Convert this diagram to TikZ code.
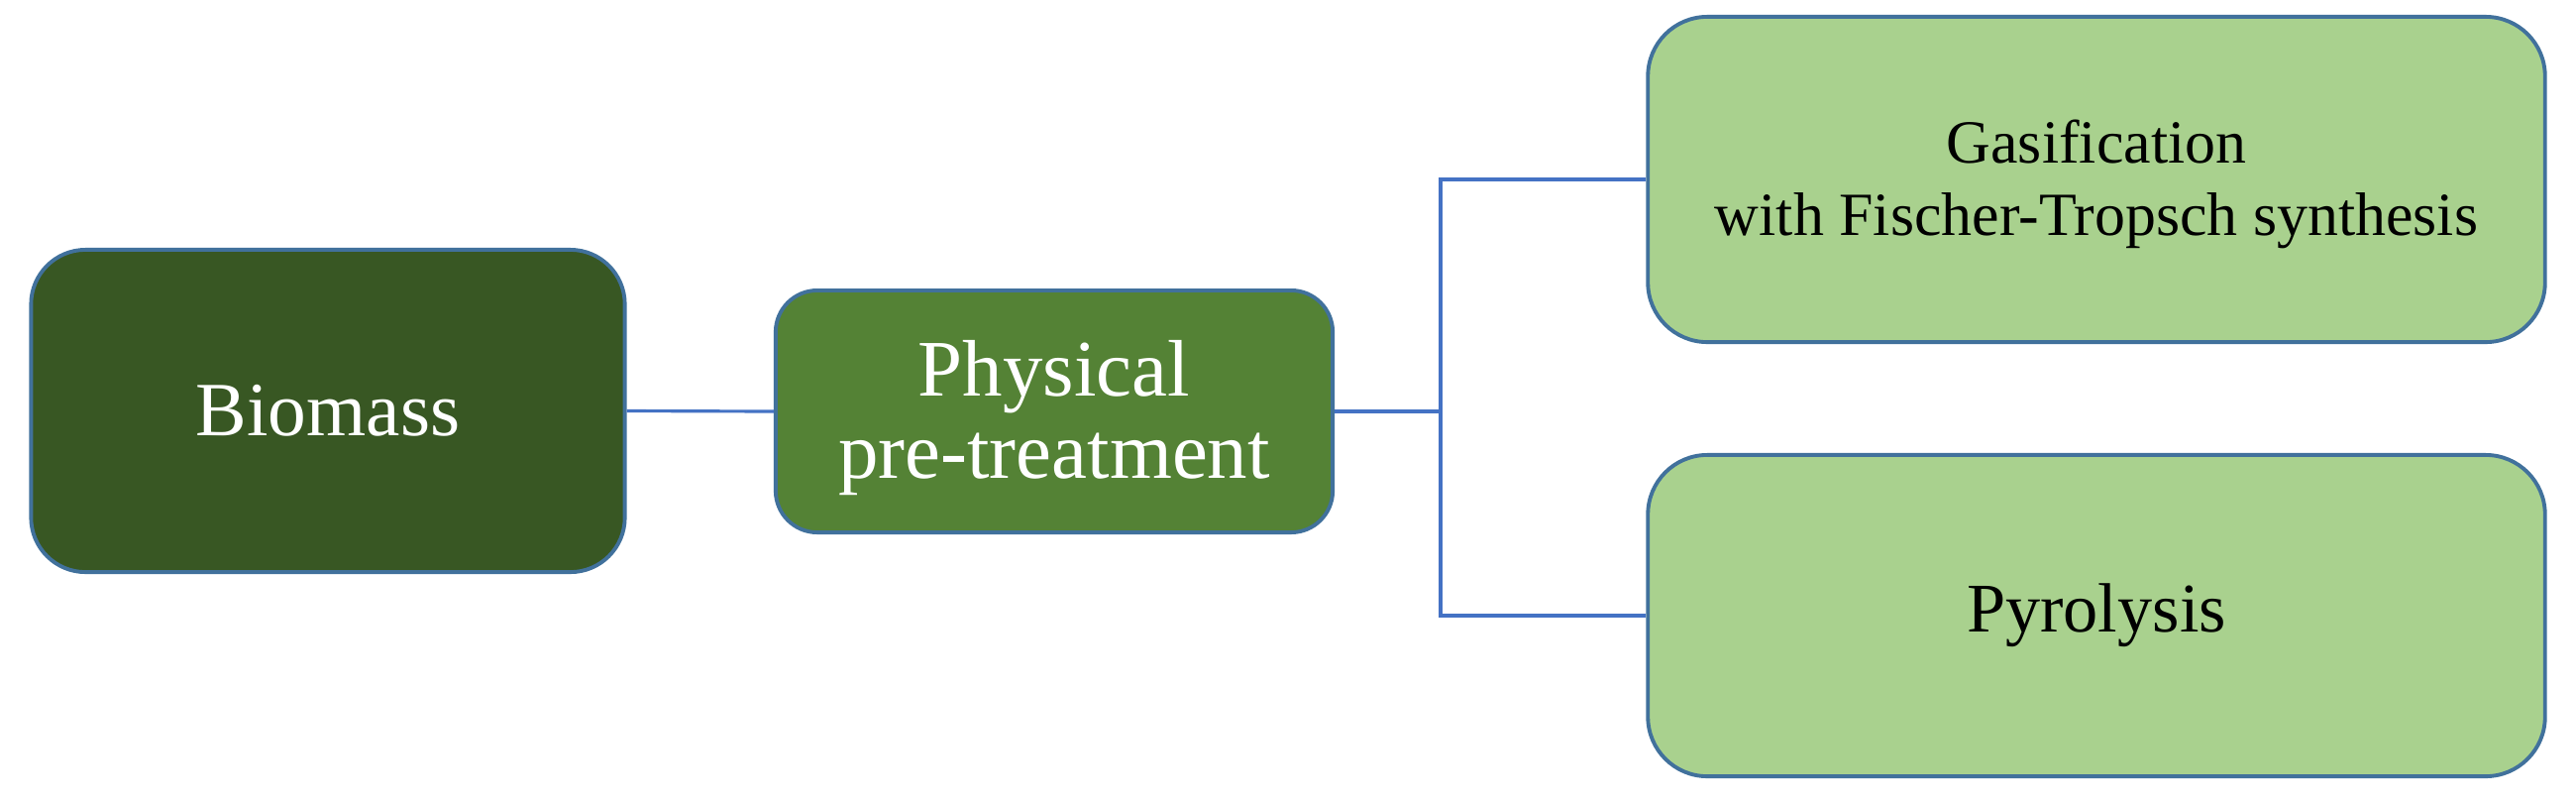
\documentclass[tikz,border=0pt]{standalone}
\usepackage{fontspec}
\setmainfont{Liberation Serif}
\begin{document}
\begin{tikzpicture}[x=0.01cm,y=-0.01cm,
  boxbase/.style={draw=bordblue, line width=1.1pt, align=center, inner sep=0pt},
  conn/.style={draw=connblue, line width=0.9pt}]
\definecolor{darkg}{HTML}{385723}
\definecolor{midg}{HTML}{548235}
\definecolor{lightg}{HTML}{A9D18E}
\definecolor{bordblue}{HTML}{41719C}
\definecolor{connblue}{HTML}{4472C4}
\useasboundingbox (0,0) rectangle (2600,808);
\node[boxbase, fill=darkg, text=white, rounded corners=0.55cm,
  minimum width=5.99cm, minimum height=3.25cm,
  font=\fontsize{22}{26}\selectfont] (bio) at (331,414.5) {Biomass};
\node[boxbase, fill=midg, text=white, rounded corners=0.42cm,
  minimum width=5.62cm, minimum height=2.44cm,
  font=\fontsize{23}{23.6}\selectfont] (phys) at (1064,415) {\rule{0pt}{19.5pt}Physical\\pre-treatment};
\node[boxbase, fill=lightg, text=black, rounded corners=0.6cm,
  minimum width=9.05cm, minimum height=3.28cm,
  font=\fontsize{17.6}{20.8}\selectfont] (gas) at (2116,181) {\rule{0pt}{15pt}Gasification\\with Fischer-Tropsch synthesis};
\node[boxbase, fill=lightg, text=black, rounded corners=0.6cm,
  minimum width=9.05cm, minimum height=3.24cm,
  font=\fontsize{20}{22}\selectfont] (pyr) at (2116,621) {Pyrolysis};
\coordinate (jn) at (1454,415);
\draw[conn] (bio.east) -- (phys.west);
\draw[conn] (phys.east) -- (jn);
\draw[conn] (gas.west) -| (jn) |- (pyr.west);
\end{tikzpicture}
\end{document}
